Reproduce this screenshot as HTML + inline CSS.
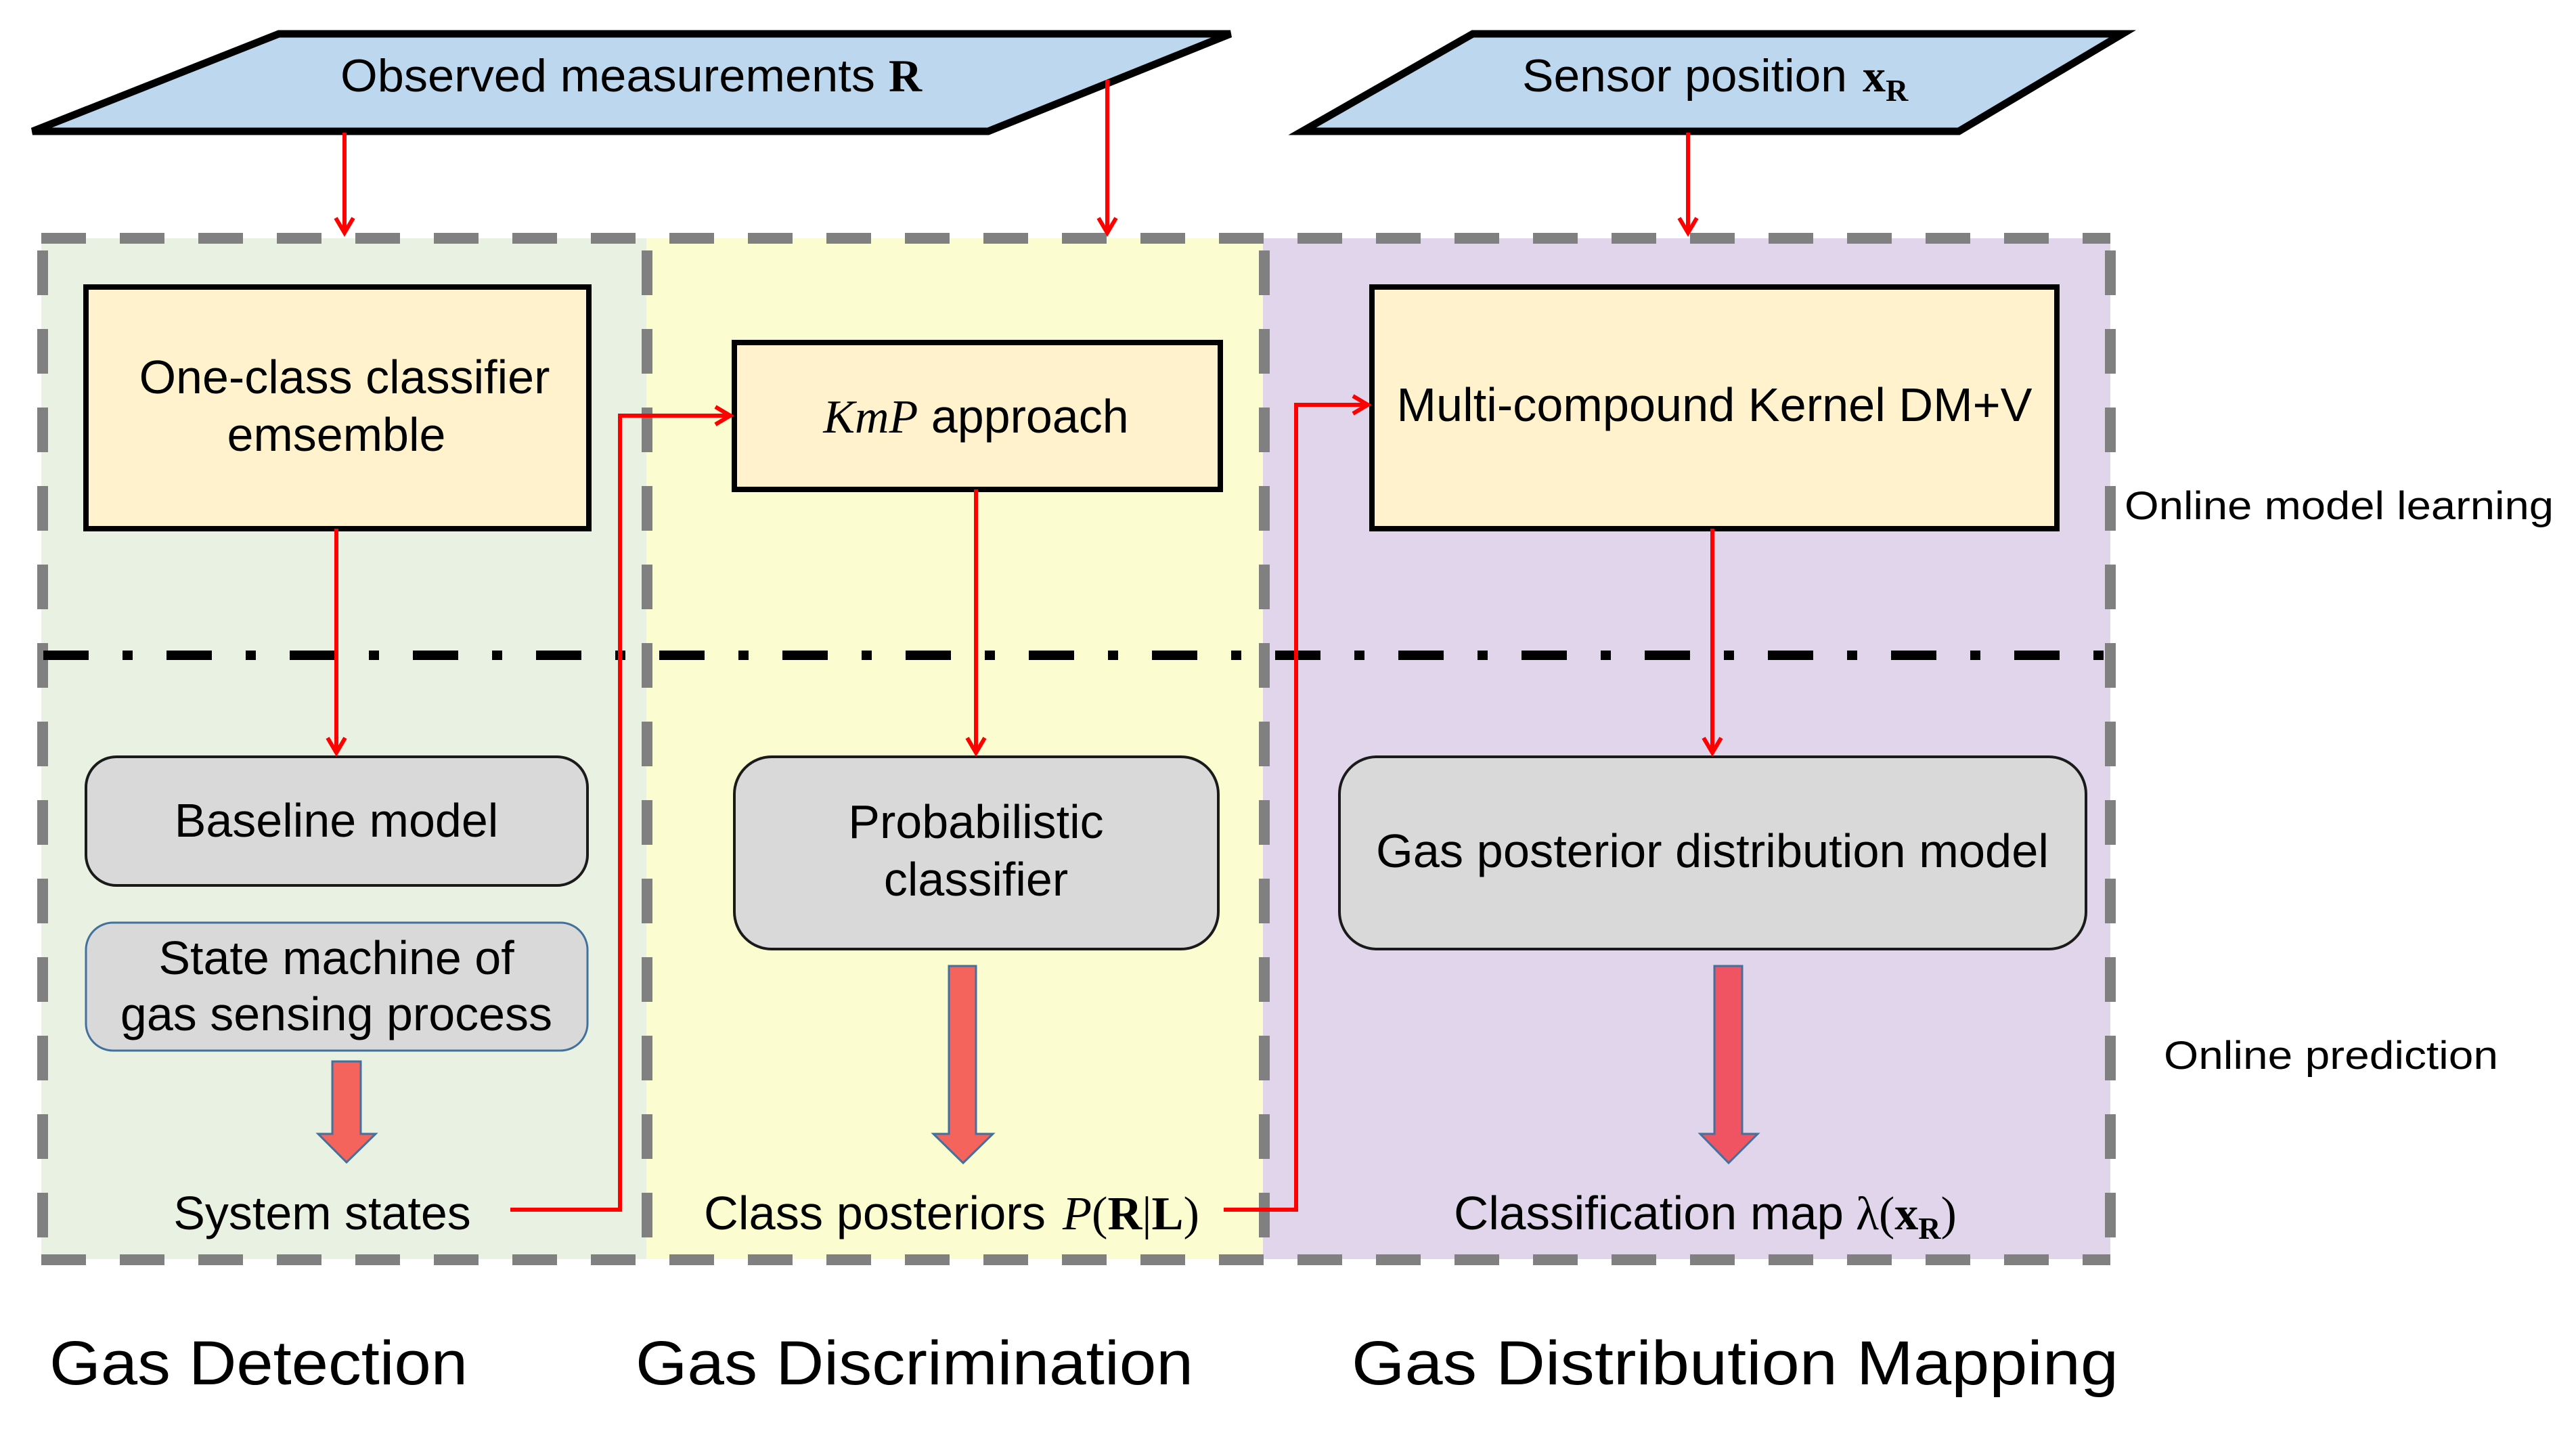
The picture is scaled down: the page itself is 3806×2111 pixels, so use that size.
<!DOCTYPE html>
<html><head><meta charset="utf-8"><style>html,body{margin:0;padding:0;background:#fff}svg{display:block}</style></head>
<body>
<svg width="3806" height="2111" viewBox="0 0 3806 2111" xmlns="http://www.w3.org/2000/svg">
<defs>
<marker id="ah" markerWidth="10" markerHeight="10" refX="8" refY="5" orient="auto" markerUnits="userSpaceOnUse" viewBox="0 0 10 10" style="overflow:visible">
<polyline points="-22,-13 0,0 -22,13" transform="translate(8,5)" fill="none" stroke="#ff0000" stroke-width="6"/>
</marker>
</defs>
<rect x="61" y="352" width="894" height="1508" fill="#e9f1e2"/>
<rect x="955" y="352" width="911" height="1508" fill="#fbfdd0"/>
<rect x="1866" y="352" width="1252" height="1508" fill="#e1d5eb"/>
<g stroke="#808080" stroke-width="16" fill="none" stroke-dasharray="66 50">
<line x1="61" y1="352" x2="3118" y2="352"/>
<line x1="61" y1="1861" x2="3118" y2="1861"/>
<line x1="63" y1="370" x2="63" y2="1861"/>
<line x1="956" y1="370" x2="956" y2="1861"/>
<line x1="1868" y1="370" x2="1868" y2="1861"/>
<line x1="3118" y1="370" x2="3118" y2="1861"/>
</g>
<line x1="64" y1="968" x2="3110" y2="968" stroke="#000" stroke-width="14" stroke-dasharray="67 50 15 50"/>
<polygon points="412,50 1818,50 1460,194 48,194" fill="#bdd7ee" stroke="#000" stroke-width="11" stroke-linejoin="miter"/>
<polygon points="2176,50 3136,50 2894,194 1924,194" fill="#bdd7ee" stroke="#000" stroke-width="11"/>
<g font-family="Liberation Sans, Arial, sans-serif" font-size="68" fill="#000">
<text x="503" y="135" textLength="790" lengthAdjust="spacingAndGlyphs">Observed measurements</text>
<text x="1313" y="135" font-family="Liberation Serif, serif" font-weight="bold">R</text>
<text x="2249" y="135" textLength="480" lengthAdjust="spacingAndGlyphs">Sensor position</text>
<text x="2752" y="135" font-family="Liberation Serif, serif" font-weight="bold">x<tspan font-size="46" dy="14">R</tspan></text>
</g>
<rect x="127" y="424" width="743" height="357" fill="#fff2cc" stroke="#000" stroke-width="8"/>
<rect x="1085" y="506" width="718" height="217" fill="#fff2cc" stroke="#000" stroke-width="8"/>
<rect x="2027" y="424" width="1012" height="357" fill="#fff2cc" stroke="#000" stroke-width="8"/>
<rect x="127" y="1118" width="741" height="190" rx="45" fill="#d9d9d9" stroke="#1a1a1a" stroke-width="4"/>
<rect x="127" y="1363" width="741" height="189" rx="40" fill="#d9d9d9" stroke="#41719c" stroke-width="3"/>
<rect x="1085" y="1118" width="715" height="284" rx="55" fill="#d9d9d9" stroke="#1a1a1a" stroke-width="4"/>
<rect x="1979" y="1118" width="1103" height="284" rx="55" fill="#d9d9d9" stroke="#1a1a1a" stroke-width="4"/>
<g font-family="Liberation Sans, Arial, sans-serif" font-size="70" fill="#000" text-anchor="middle">
<text x="509" y="581">One-class classifier</text>
<text x="497" y="666">emsemble</text>
<text x="1442" y="639"><tspan font-family="Liberation Serif, serif" font-style="italic">KmP</tspan> approach</text>
<text x="2533" y="622" textLength="939" lengthAdjust="spacingAndGlyphs">Multi-compound Kernel DM+V</text>
<text x="497" y="1236">Baseline model</text>
<text x="497" y="1439">State machine of</text>
<text x="497" y="1522">gas sensing process</text>
<text x="1442" y="1238">Probabilistic</text>
<text x="1442" y="1323">classifier</text>
<text x="2530" y="1281" textLength="994" lengthAdjust="spacingAndGlyphs">Gas posterior distribution model</text>
<text x="476" y="1816">System states</text>
</g>
<g font-family="Liberation Sans, Arial, sans-serif" font-size="70" fill="#000">
<text x="1040" y="1816" textLength="505" lengthAdjust="spacingAndGlyphs">Class posteriors</text>
<text x="1570" y="1816" font-family="Liberation Serif, serif" textLength="202" lengthAdjust="spacingAndGlyphs"><tspan font-style="italic">P</tspan>(<tspan font-weight="bold">R</tspan>|<tspan font-weight="bold">L</tspan>)</text>
<text x="2148" y="1816" textLength="576" lengthAdjust="spacingAndGlyphs">Classification map</text>
<text x="2742" y="1816" font-family="Liberation Serif, serif">λ(<tspan font-weight="bold">x</tspan><tspan font-weight="bold" font-size="46" dy="14">R</tspan><tspan dy="-14">)</tspan></text>
</g>
<g stroke="#ff0000" stroke-width="6" fill="none" marker-end="url(#ah)">
<line x1="509" y1="196" x2="509" y2="344"/>
<line x1="1636" y1="118" x2="1636" y2="344"/>
<line x1="2494" y1="196" x2="2494" y2="344"/>
<line x1="497" y1="781" x2="497" y2="1112"/>
<line x1="1442" y1="723" x2="1442" y2="1112"/>
<line x1="2530" y1="781" x2="2530" y2="1112"/>
<polyline points="754,1787 916,1787 916,614 1079,614"/>
<polyline points="1808,1787 1915,1787 1915,598 2021,598"/>
</g>
<g stroke="#41719c" stroke-width="3">
<polygon points="491,1568 533,1568 533,1675 555,1675 512,1717 470,1675 491,1675" fill="#f4645c"/>
<polygon points="1402,1427 1442,1427 1442,1675 1467,1675 1423,1718 1379,1675 1402,1675" fill="#f4645c"/>
<polygon points="2533,1427 2574,1427 2574,1675 2597,1675 2554,1718 2512,1675 2533,1675" fill="#f05462"/>
</g>
<g font-family="Liberation Sans, Carlito, sans-serif" fill="#000">
<text x="3139" y="767" font-size="58" textLength="634" lengthAdjust="spacingAndGlyphs">Online model learning</text>
<text x="3197" y="1579" font-size="58" textLength="494" lengthAdjust="spacingAndGlyphs">Online prediction</text>
<text x="73" y="2045" font-size="92" textLength="618" lengthAdjust="spacingAndGlyphs">Gas Detection</text>
<text x="939" y="2045" font-size="92" textLength="824" lengthAdjust="spacingAndGlyphs">Gas Discrimination</text>
<text x="1997" y="2045" font-size="92" textLength="1133" lengthAdjust="spacingAndGlyphs">Gas Distribution Mapping</text>
</g>
</svg>
</body></html>
